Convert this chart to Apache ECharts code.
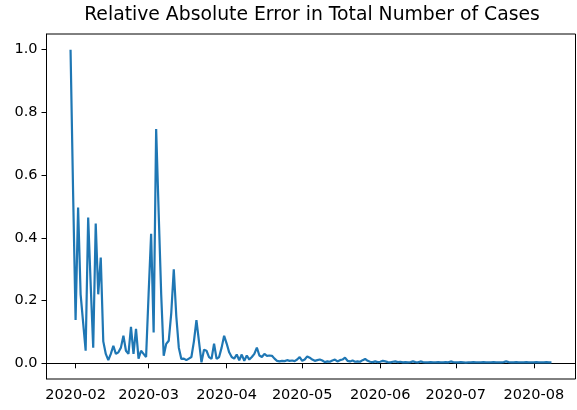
<!DOCTYPE html>
<html>
<head>
<meta charset="utf-8">
<script src="https://cdn.jsdelivr.net/npm/echarts@6/dist/echarts.min.js"></script>
<style>html,body{margin:0;padding:0;background:#fff}#c{width:577px;height:410px}</style>
</head>
<body>
<div id="c"></div>
<script>
// Daily series starting 2020-01-30
const startDate = '2020-01-30';
const values = [
  1.0, 0.55, 0.138, 0.497, 0.22, 0.13, 0.04, 0.465, 0.25, 0.05,
  0.446, 0.22, 0.337, 0.07, 0.03, 0.01, 0.03, 0.056, 0.03, 0.035,
  0.05, 0.088, 0.04, 0.03, 0.116, 0.03, 0.11, 0.015, 0.04, 0.03,
  0.02, 0.22, 0.413, 0.098, 0.747, 0.48, 0.22, 0.024, 0.062, 0.072,
  0.16, 0.30, 0.15, 0.05, 0.014, 0.015, 0.01, 0.015, 0.02, 0.07,
  0.138, 0.07, 0.003, 0.043, 0.04, 0.02, 0.014, 0.063, 0.014, 0.02,
  0.05, 0.088, 0.063, 0.035, 0.02, 0.015, 0.028, 0.01, 0.028, 0.008,
  0.025, 0.012, 0.02, 0.03, 0.05, 0.025, 0.02, 0.03, 0.024, 0.025,
  0.024, 0.015, 0.008, 0.006, 0.008, 0.007, 0.01, 0.008, 0.009, 0.007,
  0.012, 0.02, 0.008, 0.012, 0.022, 0.018, 0.012, 0.008, 0.01, 0.012,
  0.009, 0.004, 0.006, 0.005, 0.009, 0.012, 0.006, 0.01, 0.012, 0.018,
  0.008, 0.006, 0.009, 0.005, 0.006, 0.005, 0.01, 0.014, 0.008, 0.005,
  0.004, 0.006, 0.004, 0.005, 0.008, 0.006, 0.004, 0.003, 0.005, 0.006,
  0.004, 0.005, 0.003, 0.004, 0.003, 0.004, 0.006, 0.004, 0.003, 0.006,
  0.004, 0.003, 0.003, 0.004, 0.003, 0.003, 0.004, 0.003, 0.003, 0.004,
  0.003, 0.006, 0.004, 0.003, 0.003, 0.004, 0.003, 0.002, 0.003, 0.003,
  0.004, 0.003, 0.003, 0.003, 0.004, 0.003, 0.003, 0.003, 0.004, 0.003,
  0.003, 0.003, 0.004, 0.006, 0.004, 0.003, 0.003, 0.004, 0.003, 0.003,
  0.003, 0.004, 0.003, 0.003, 0.003, 0.004, 0.003, 0.003, 0.003, 0.004,
  0.003, 0.003
];
const xTickLabels = ['2020-02', '2020-03', '2020-04', '2020-05', '2020-06', '2020-07', '2020-08'];
const yTickValues = [0.0, 0.2, 0.4, 0.6, 0.8, 1.0];
const titleText = 'Relative Absolute Error in Total Number of Cases';

const DAY = 86400000;
const t0 = Date.parse(startDate + 'T00:00:00Z');
const points = values.map((v, i) => [t0 + i * DAY, v]);
const tEnd = t0 + (values.length - 1) * DAY;
const span = tEnd - t0;
const xMin = t0 - 0.05 * span;
const xMax = tEnd + 0.05 * span;
const xTickValues = xTickLabels.map(s => Date.parse(s + '-01T00:00:00Z'));
const labelMap = {};
xTickValues.forEach((t, i) => { labelMap[t] = xTickLabels[i]; });

const font = 'DejaVu Sans';
const chart = echarts.init(document.getElementById('c'), null, { renderer: 'canvas' });
chart.setOption({
  animation: false,
  backgroundColor: '#fff',
  title: {
    text: titleText,
    left: 307,
    top: 1,
    textAlign: 'center',
    textStyle: { fontFamily: font, fontSize: 18.8, fontWeight: 'normal', color: '#000' }
  },
  grid: {
    left: 46.5, right: 1.5, top: 34, bottom: 31,
    show: true, borderColor: '#000', borderWidth: 1, backgroundColor: 'transparent'
  },
  xAxis: {
    type: 'value',
    min: xMin, max: xMax,
    splitLine: { show: false },
    axisLine: { show: true, lineStyle: { color: '#000', width: 1 } },
    axisTick: { show: true, length: 5, inside: false, customValues: xTickValues, lineStyle: { color: '#000', width: 1 } },
    axisLabel: {
      customValues: xTickValues,
      margin: 9,
      fontFamily: font, fontSize: 14.5, color: '#000',
      formatter: v => labelMap[v] || ''
    }
  },
  yAxis: {
    type: 'value',
    min: -0.05, max: 1.05,
    splitLine: { show: false },
    axisLine: { show: true, lineStyle: { color: '#000', width: 1 } },
    axisTick: { show: true, length: 5, customValues: yTickValues, lineStyle: { color: '#000', width: 1 } },
    axisLabel: {
      customValues: yTickValues,
      margin: 9,
      fontFamily: font, fontSize: 14.5, color: '#000',
      formatter: v => v.toFixed(1)
    }
  },
  series: [{
    type: 'line',
    data: points,
    showSymbol: false,
    symbol: 'none',
    lineStyle: { color: '#1f77b4', width: 2.2 },
    itemStyle: { color: '#1f77b4' }
  }]
});
</script>
</body>
</html>
